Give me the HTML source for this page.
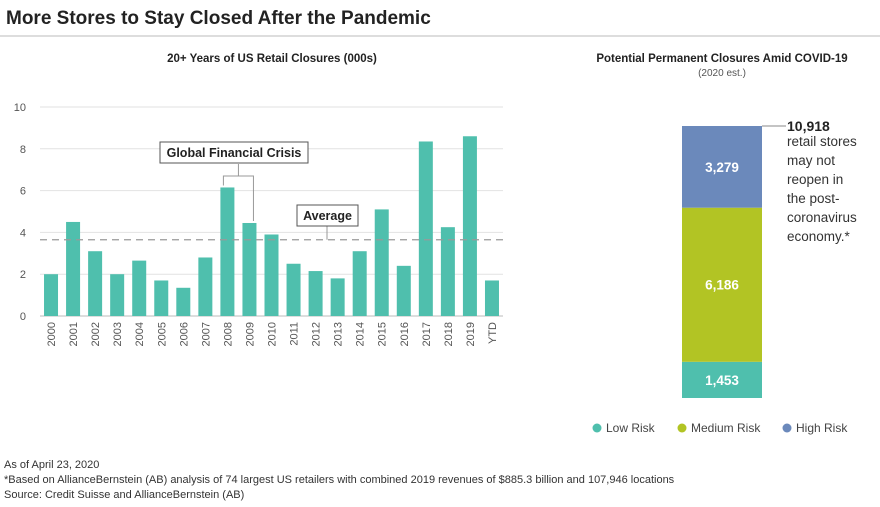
<!DOCTYPE html>
<html><head><meta charset="utf-8"><style>
body{margin:0;width:880px;height:502px;background:#fff;font-family:"Liberation Sans",sans-serif;overflow:hidden}
svg text{font-family:"Liberation Sans",sans-serif}
</style></head><body>
<svg width="880" height="502">
<text x="6" y="24" font-size="19" font-weight="bold" fill="#222">More Stores to Stay Closed After the Pandemic</text>
<line x1="0" y1="36" x2="880" y2="36" stroke="#bbb"/>
<text x="272" y="62" font-size="11.5" font-weight="bold" text-anchor="middle" fill="#222">20+ Years of US Retail Closures (000s)</text>
<g id="left"></g>
<text x="722" y="62" font-size="11.5" font-weight="bold" text-anchor="middle" fill="#222">Potential Permanent Closures Amid COVID-19</text>
<text x="722" y="76" font-size="10" text-anchor="middle" fill="#555">(2020 est.)</text>
<g id="right"></g>
<line x1="762" y1="126" x2="786" y2="126" stroke="#888"/>
<text x="787" y="131" font-size="14" font-weight="bold" fill="#222">10,918</text>
<g font-size="13.5" fill="#333">
<text x="787" y="146">retail stores</text><text x="787" y="165">may not</text><text x="787" y="184">reopen in</text><text x="787" y="203">the post-</text><text x="787" y="222">coronavirus</text><text x="787" y="241">economy.*</text></g>
<g font-size="12" fill="#444">
<circle cx="597" cy="428" r="4.5" fill="#4fbfad"/><text x="606" y="432">Low Risk</text>
<circle cx="682" cy="428" r="4.5" fill="#b2c424"/><text x="691" y="432">Medium Risk</text>
<circle cx="787" cy="428" r="4.5" fill="#6b89bb"/><text x="796" y="432">High Risk</text></g>
<g font-size="11" fill="#333">
<text x="4" y="468">As of April 23, 2020</text>
<text x="4" y="483">*Based on AllianceBernstein (AB) analysis of 74 largest US retailers with combined 2019 revenues of $885.3 billion and 107,946 locations</text>
<text x="4" y="498">Source: Credit Suisse and AllianceBernstein (AB)</text></g>
</svg>
<script>
const years=["2000","2001","2002","2003","2004","2005","2006","2007","2008","2009","2010","2011","2012","2013","2014","2015","2016","2017","2018","2019","YTD"];
const closures=[2.0,4.5,3.1,2.0,2.65,1.7,1.35,2.8,6.15,4.45,3.9,2.5,2.15,1.8,3.1,5.1,2.4,8.35,4.25,8.6,1.7];
const yTicks=[0,2,4,6,8,10];
const average=[3.65];
const riskLabels=["Low Risk","Medium Risk","High Risk"];
const riskValues=[1453,6186,3279];
const NS="http://www.w3.org/2000/svg";
function mk(p,t,a){const e=document.createElementNS(NS,t);for(const k in a)e.setAttribute(k,a[k]);p.appendChild(e);return e;}
const L=document.getElementById('left');
const plotY0=316,plotY1=107,plotX0=40,plotX1=503;
const ys=v=>plotY0-(v/10)*(plotY0-plotY1);
const step=(plotX1-plotX0)/years.length;
const xs=i=>plotX0+step*(i+0.5);
yTicks.forEach(t=>{
 const g=mk(L,'line',{x1:plotX0,x2:plotX1,y1:ys(t),y2:ys(t),stroke:t===0?'#bbb':'#e2e2e2'});
 
 
 const tx=mk(L,'text',{x:26,y:ys(t)+4,'font-size':11,fill:'#555','text-anchor':'end'});tx.textContent=t;
 
 
});
years.forEach((yr,i)=>{
 const b=mk(L,'rect',{x:xs(i)-7,y:ys(closures[i]),width:14,height:plotY0-ys(closures[i]),fill:'#4fbfad'});
 
 
 const t=mk(L,'text',{x:0,y:0,'font-size':11,fill:'#555','text-anchor':'end',transform:`translate(${xs(i)+4},${plotY0+6}) rotate(-90)`});t.textContent=yr;
 
 
});
const ay=ys(average[0]);
const al=mk(L,'line',{x1:plotX0,x2:plotX1,y1:ay,y2:ay,stroke:'#999','stroke-width':1.3,'stroke-dasharray':'7,5'});


const i8=8,i9=9,bt=ys(closures[i8])-2,bt2=ys(closures[i9])-2;
const cx=(xs(i8)+xs(i9))/2, by=176;
const br=mk(L,'path',{d:`M${xs(i8)-4},${bt} V${by} H${xs(i9)+4} V${bt2} M${cx},${by} V164`,fill:'none',stroke:'#999','stroke-width':1});


const gb=mk(L,'rect',{x:160,y:142,width:148,height:21,fill:'#fff',stroke:'#555'});


const gt=mk(L,'text',{x:234,y:157,'font-size':12.5,'font-weight':'bold','text-anchor':'middle',fill:'#222'});gt.textContent='Global Financial Crisis';


const ac=mk(L,'line',{x1:327,x2:327,y1:226,y2:ay,stroke:'#999'});


const ab=mk(L,'rect',{x:297,y:205,width:61,height:21,fill:'#fff',stroke:'#555'});


const at=mk(L,'text',{x:327.5,y:220,'font-size':12.5,'font-weight':'bold','text-anchor':'middle',fill:'#222'});at.textContent='Average';


const R=document.getElementById('right');
const colors=['#4fbfad','#b2c424','#6b89bb'];
const total=riskValues.reduce((a,b)=>a+b,0);
const stackTop=126,stackBot=398,sc=(stackBot-stackTop)/total;
let cur=stackBot;
riskValues.forEach((v,i)=>{
 const h=v*sc;cur-=h;
 const r=mk(R,'rect',{x:682,y:cur,width:80,height:h,fill:colors[i]});
 
 
 const t=mk(R,'text',{x:722,y:cur+h/2+5,'font-size':13.5,'font-weight':'bold',fill:'#fff','text-anchor':'middle'});
 t.textContent=v.toLocaleString('en-US');
 
 
});
</script>
</body></html>
